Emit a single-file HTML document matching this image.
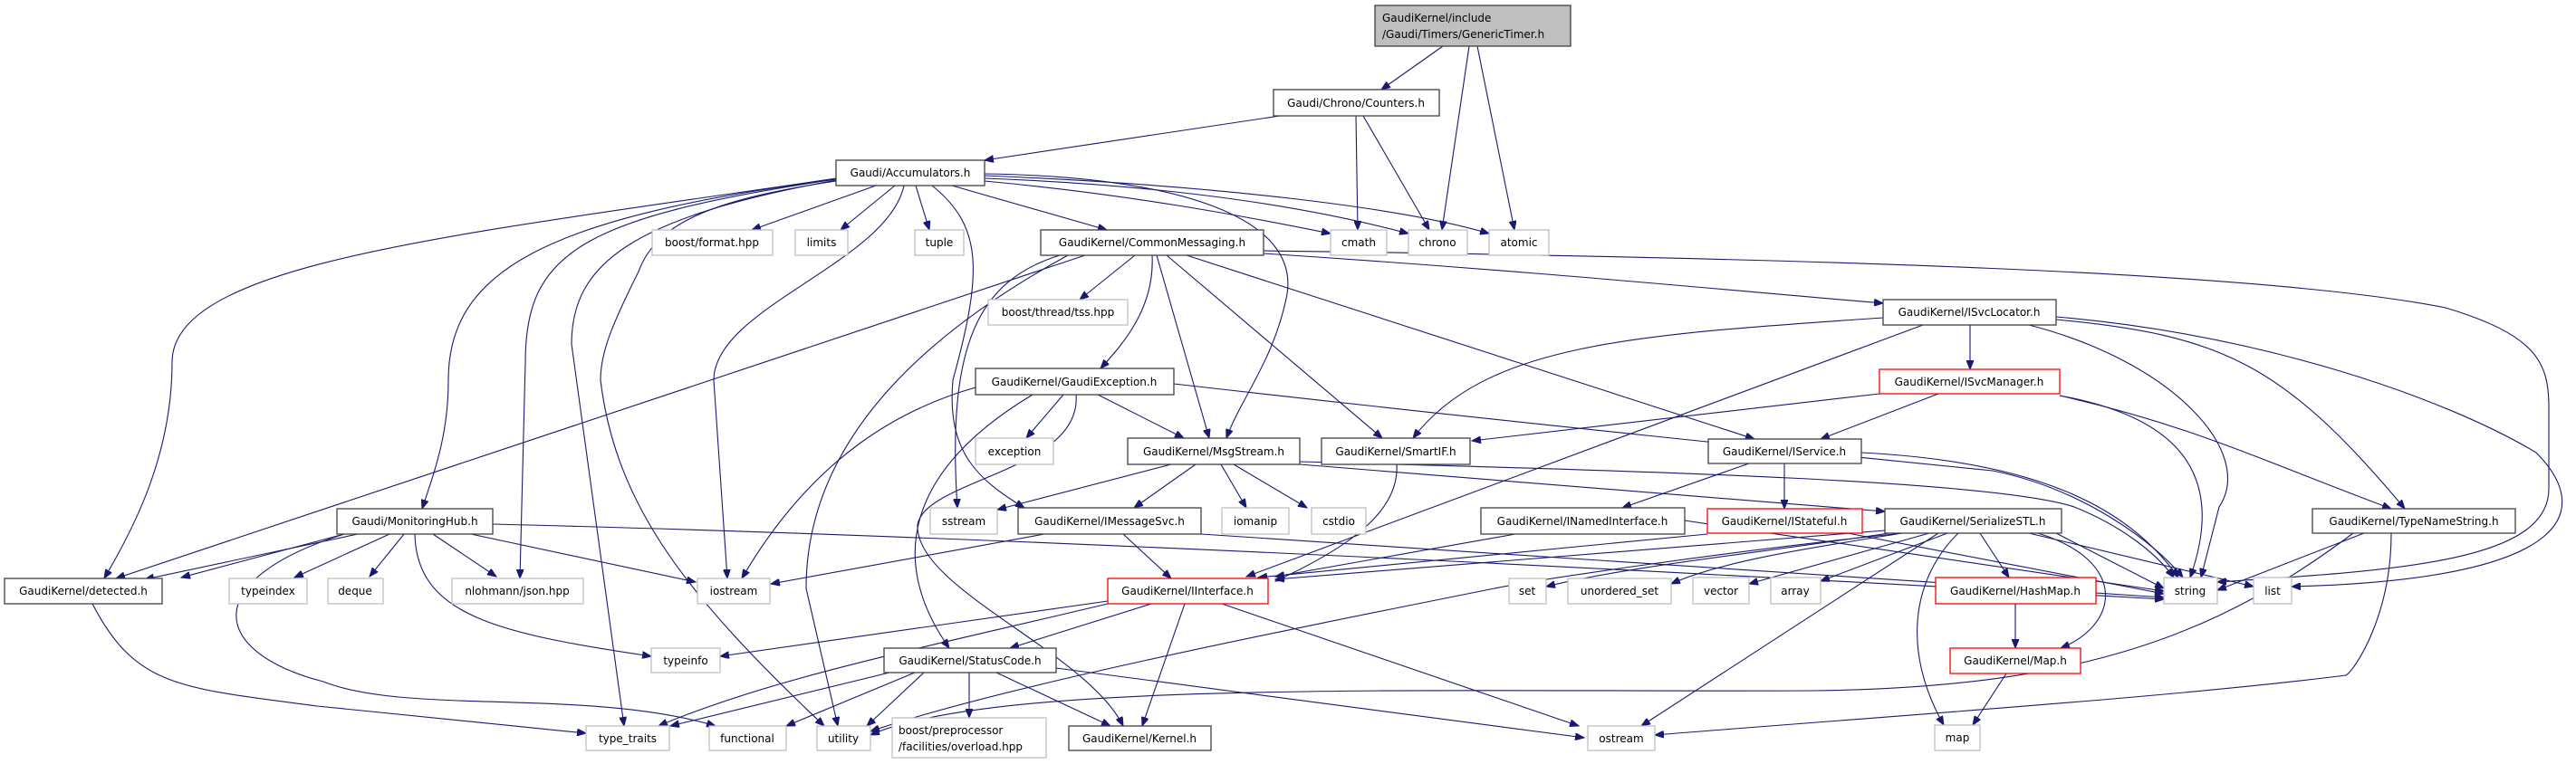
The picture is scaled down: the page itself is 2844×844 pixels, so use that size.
<!DOCTYPE html>
<html><head><meta charset="utf-8"><style>
html,body{margin:0;padding:0;background:#fff;}
svg{display:block;}
text{font-family:"DejaVu Sans","Liberation Sans",sans-serif;font-size:12px;fill:#000;}
.b{fill:#fff;stroke:#404040;stroke-width:1.3}
.g{fill:#fff;stroke:#bfbfbf;stroke-width:1.3}
.r{fill:#fff;stroke:#ff0000;stroke-width:1.3}
.f{fill:#bfbfbf;stroke:#404040;stroke-width:1.3}
.e path{fill:none;stroke:#191970;stroke-width:1.1;marker-end:url(#a)}
</style></head><body>
<svg width="2844" height="844" viewBox="0 0 2844 844" xmlns="http://www.w3.org/2000/svg">
<defs><marker id="a" markerWidth="11" markerHeight="8" refX="10" refY="4" orient="auto" markerUnits="userSpaceOnUse"><path d="M0,0 L10,4 L0,8 z" fill="#191970" stroke="#191970"/></marker></defs>
<g class="e">
<path d="M1593,51 L1525,99"/>
<path d="M1622,51 L1592,254"/>
<path d="M1631,51 L1672,254"/>
<path d="M1413,128 L1087,177"/>
<path d="M1497,128 L1499,254"/>
<path d="M1505,128 L1578,254"/>
<path d="M967,205 L830,254"/>
<path d="M988,205 L928,254"/>
<path d="M1011,205 L1026,254"/>
<path d="M1051,205 L1222,254"/>
<path d="M1087,200 C1250,215 1380,240 1469,258"/>
<path d="M1087,197 C1300,205 1450,230 1555,258"/>
<path d="M1087,194 C1350,205 1550,230 1644,258"/>
<path d="M1087,192 C1300,195 1440,240 1420,330 C1405,400 1370,440 1354,484"/>
<path d="M1029,205 C1085,250 1085,300 1052,420 C1045,500 1080,530 1131,561"/>
<path d="M923,198 C600,240 495,300 495,420 C495,480 480,520 466,562"/>
<path d="M923,197 C500,260 190,290 190,400 C190,500 150,580 115,639"/>
<path d="M923,198 C640,240 580,280 580,400 L574,639"/>
<path d="M923,199 C700,240 631,290 631,380 L689,802"/>
<path d="M923,200 C790,220 725,245 705,300 C675,360 663,390 663,420 C680,560 760,660 910,802"/>
<path d="M998,205 C980,290 788,340 788,420 L803,639"/>
<path d="M1198,282 L128,639"/>
<path d="M1170,282 C1080,310 1045,380 1057,561"/>
<path d="M1179,282 C1000,380 890,500 890,650 L925,802"/>
<path d="M1077,428 C1000,450 900,500 819,639"/>
<path d="M1153,590 L851,645"/>
<path d="M1223,664 L795,725"/>
<path d="M1223,667 C1000,720 850,750 727,802"/>
<path d="M982,743 L740,802"/>
<path d="M1010,743 L868,802"/>
<path d="M1020,743 L957,802"/>
<path d="M2100,589 C1900,610 1700,640 1650,650 C1400,700 1100,760 961,808"/>
<path d="M2598,589 C2450,700 2300,760 2000,763 C1600,765 1100,750 961,812"/>
<path d="M2640,589 C2640,680 2600,740 2590,746 C2400,770 2100,790 1827,812"/>
<path d="M2610,589 L2448,652"/>
<path d="M2215,744 L2178,801"/>
<path d="M2162,589 C2110,640 2100,720 2146,801"/>
<path d="M2250,589 C2350,620 2340,690 2275,716"/>
<path d="M2186,589 L2218,638"/>
<path d="M2225,667 L2225,716"/>
<path d="M2150,589 L2010,642"/>
<path d="M2130,589 L1931,645"/>
<path d="M2100,589 C2000,605 1900,620 1845,645"/>
<path d="M2085,589 C1950,610 1800,625 1707,648"/>
<path d="M2140,589 L1812,802"/>
<path d="M2270,589 L2389,650"/>
<path d="M2240,589 L2488,648"/>
<path d="M2081,586 L1408,640"/>
<path d="M1673,590 L1408,637"/>
<path d="M1885,590 L1389,638"/>
<path d="M2123,359 L1376,637"/>
<path d="M1542,513 C1545,560 1500,600 1408,642"/>
<path d="M1240,590 L1293,639"/>
<path d="M1271,667 L1115,716"/>
<path d="M1308,667 L1261,802"/>
<path d="M1349,667 L1743,802"/>
<path d="M1070,743 L1070,793"/>
<path d="M1100,743 L1226,802"/>
<path d="M1166,738 L1749,815"/>
<path d="M1188,436 C1195,520 1020,530 1013,580 C1010,650 1200,720 1240,802"/>
<path d="M1140,436 C1000,520 980,620 1048,716"/>
<path d="M1174,436 L1133,484"/>
<path d="M1212,436 L1307,484"/>
<path d="M1296,424 C1700,470 2000,500 2200,520 C2300,540 2380,600 2410,638"/>
<path d="M1253,282 L1192,331"/>
<path d="M1272,282 C1275,340 1240,380 1215,407"/>
<path d="M1277,282 L1335,484"/>
<path d="M1288,282 L1526,484"/>
<path d="M1310,282 L1937,485"/>
<path d="M1395,280 C1700,300 1900,320 2079,335"/>
<path d="M1395,277 C2000,285 2500,300 2700,340 C2800,370 2814,400 2814,450 L2814,540 C2814,620 2650,630 2448,643"/>
<path d="M2270,350 C2500,370 2700,440 2800,500 C2860,560 2850,640 2530,648"/>
<path d="M2240,359 C2400,400 2490,500 2450,560 L2430,638"/>
<path d="M2175,359 L2175,408"/>
<path d="M2270,353 C2450,370 2520,400 2655,562"/>
<path d="M2079,351 C1800,370 1640,380 1560,484"/>
<path d="M2075,435 L1625,487"/>
<path d="M2140,435 L2010,485"/>
<path d="M2274,437 C2400,460 2460,520 2418,638"/>
<path d="M2274,437 C2420,470 2500,510 2640,562"/>
<path d="M1931,512 L1791,561"/>
<path d="M1970,512 L1970,562"/>
<path d="M2055,500 C2250,510 2350,560 2405,638"/>
<path d="M1435,510 C1800,520 2200,530 2290,560 C2340,580 2380,610 2400,638"/>
<path d="M1435,513 L2081,565"/>
<path d="M1293,513 L1101,563"/>
<path d="M1320,513 L1252,561"/>
<path d="M1348,513 L1376,561"/>
<path d="M1362,513 L1443,561"/>
<path d="M1860,575 L2389,653"/>
<path d="M2040,589 L2389,656"/>
<path d="M1326,590 C1700,615 2100,640 2389,660"/>
<path d="M544,579 C1200,595 2000,640 2389,662"/>
<path d="M395,590 L160,640"/>
<path d="M380,590 L200,638"/>
<path d="M430,590 L325,638"/>
<path d="M446,590 L408,637"/>
<path d="M478,590 L548,637"/>
<path d="M520,590 L768,643"/>
<path d="M458,590 C460,680 550,700 719,725"/>
<path d="M380,590 C220,640 230,720 357,753 C450,790 650,760 790,802"/>
<path d="M102,667 C150,760 200,760 350,780 L647,810"/>
</g>
<g>
<rect class="f" x="1518" y="6" width="216" height="45"/><text x="1526" y="24">GaudiKernel/include</text><text x="1526" y="42">/Gaudi/Timers/GenericTimer.h</text>
<rect class="b" x="1406" y="99" width="183" height="29"/><text x="1497" y="118" text-anchor="middle">Gaudi/Chrono/Counters.h</text>
<rect class="b" x="923" y="177" width="164" height="28"/><text x="1005" y="195" text-anchor="middle">Gaudi/Accumulators.h</text>
<rect class="g" x="720" y="254" width="133" height="28"/><text x="786" y="272" text-anchor="middle">boost/format.hpp</text>
<rect class="g" x="878" y="254" width="58" height="28"/><text x="907" y="272" text-anchor="middle">limits</text>
<rect class="g" x="1010" y="254" width="54" height="28"/><text x="1037" y="272" text-anchor="middle">tuple</text>
<rect class="b" x="1149" y="254" width="246" height="28"/><text x="1272" y="272" text-anchor="middle">GaudiKernel/CommonMessaging.h</text>
<rect class="g" x="1469" y="254" width="62" height="28"/><text x="1500" y="272" text-anchor="middle">cmath</text>
<rect class="g" x="1555" y="254" width="65" height="28"/><text x="1587" y="272" text-anchor="middle">chrono</text>
<rect class="g" x="1644" y="254" width="66" height="28"/><text x="1677" y="272" text-anchor="middle">atomic</text>
<rect class="g" x="1091" y="331" width="154" height="28"/><text x="1168" y="349" text-anchor="middle">boost/thread/tss.hpp</text>
<rect class="b" x="2079" y="331" width="191" height="28"/><text x="2174" y="349" text-anchor="middle">GaudiKernel/ISvcLocator.h</text>
<rect class="b" x="1077" y="407" width="219" height="29"/><text x="1186" y="426" text-anchor="middle">GaudiKernel/GaudiException.h</text>
<rect class="r" x="2075" y="408" width="199" height="27"/><text x="2174" y="426" text-anchor="middle">GaudiKernel/ISvcManager.h</text>
<rect class="g" x="1077" y="484" width="86" height="29"/><text x="1120" y="503" text-anchor="middle">exception</text>
<rect class="b" x="1245" y="484" width="190" height="29"/><text x="1340" y="503" text-anchor="middle">GaudiKernel/MsgStream.h</text>
<rect class="b" x="1459" y="484" width="164" height="29"/><text x="1541" y="503" text-anchor="middle">GaudiKernel/SmartIF.h</text>
<rect class="b" x="1886" y="485" width="169" height="27"/><text x="1970" y="503" text-anchor="middle">GaudiKernel/IService.h</text>
<rect class="b" x="372" y="562" width="172" height="28"/><text x="458" y="580" text-anchor="middle">Gaudi/MonitoringHub.h</text>
<rect class="g" x="1027" y="561" width="74" height="29"/><text x="1064" y="580" text-anchor="middle">sstream</text>
<rect class="b" x="1124" y="561" width="202" height="29"/><text x="1225" y="580" text-anchor="middle">GaudiKernel/IMessageSvc.h</text>
<rect class="g" x="1349" y="561" width="74" height="29"/><text x="1386" y="580" text-anchor="middle">iomanip</text>
<rect class="g" x="1448" y="561" width="60" height="29"/><text x="1478" y="580" text-anchor="middle">cstdio</text>
<rect class="b" x="1635" y="561" width="225" height="29"/><text x="1747" y="580" text-anchor="middle">GaudiKernel/INamedInterface.h</text>
<rect class="r" x="1885" y="562" width="171" height="27"/><text x="1970" y="580" text-anchor="middle">GaudiKernel/IStateful.h</text>
<rect class="b" x="2081" y="562" width="195" height="27"/><text x="2178" y="580" text-anchor="middle">GaudiKernel/SerializeSTL.h</text>
<rect class="b" x="2553" y="562" width="224" height="27"/><text x="2665" y="580" text-anchor="middle">GaudiKernel/TypeNameString.h</text>
<rect class="b" x="5" y="639" width="174" height="28"/><text x="92" y="657" text-anchor="middle">GaudiKernel/detected.h</text>
<rect class="g" x="253" y="639" width="86" height="28"/><text x="296" y="657" text-anchor="middle">typeindex</text>
<rect class="g" x="362" y="639" width="61" height="28"/><text x="392" y="657" text-anchor="middle">deque</text>
<rect class="g" x="499" y="639" width="145" height="28"/><text x="571" y="657" text-anchor="middle">nlohmann/json.hpp</text>
<rect class="g" x="770" y="639" width="80" height="28"/><text x="810" y="657" text-anchor="middle">iostream</text>
<rect class="r" x="1223" y="639" width="177" height="28"/><text x="1311" y="657" text-anchor="middle">GaudiKernel/IInterface.h</text>
<rect class="g" x="1666" y="639" width="41" height="28"/><text x="1686" y="657" text-anchor="middle">set</text>
<rect class="g" x="1731" y="639" width="114" height="28"/><text x="1788" y="657" text-anchor="middle">unordered_set</text>
<rect class="g" x="1869" y="638" width="62" height="29"/><text x="1900" y="657" text-anchor="middle">vector</text>
<rect class="g" x="1955" y="638" width="55" height="29"/><text x="1982" y="657" text-anchor="middle">array</text>
<rect class="r" x="2137" y="638" width="177" height="29"/><text x="2225" y="657" text-anchor="middle">GaudiKernel/HashMap.h</text>
<rect class="g" x="2389" y="638" width="59" height="29"/><text x="2418" y="657" text-anchor="middle">string</text>
<rect class="g" x="2488" y="638" width="42" height="29"/><text x="2509" y="657" text-anchor="middle">list</text>
<rect class="g" x="719" y="716" width="76" height="27"/><text x="757" y="734" text-anchor="middle">typeinfo</text>
<rect class="b" x="976" y="716" width="190" height="27"/><text x="1071" y="734" text-anchor="middle">GaudiKernel/StatusCode.h</text>
<rect class="r" x="2153" y="716" width="144" height="28"/><text x="2225" y="734" text-anchor="middle">GaudiKernel/Map.h</text>
<rect class="g" x="647" y="802" width="92" height="27"/><text x="693" y="820" text-anchor="middle">type_traits</text>
<rect class="g" x="783" y="802" width="85" height="27"/><text x="825" y="820" text-anchor="middle">functional</text>
<rect class="g" x="902" y="802" width="59" height="27"/><text x="931" y="820" text-anchor="middle">utility</text>
<rect class="g" x="985" y="793" width="170" height="44"/><text x="992" y="811">boost/preprocessor</text><text x="992" y="829">/facilities/overload.hpp</text>
<rect class="b" x="1180" y="802" width="157" height="27"/><text x="1258" y="820" text-anchor="middle">GaudiKernel/Kernel.h</text>
<rect class="g" x="1753" y="802" width="74" height="27"/><text x="1790" y="820" text-anchor="middle">ostream</text>
<rect class="g" x="2136" y="801" width="50" height="28"/><text x="2161" y="819" text-anchor="middle">map</text>
</g>
</svg>
</body></html>
